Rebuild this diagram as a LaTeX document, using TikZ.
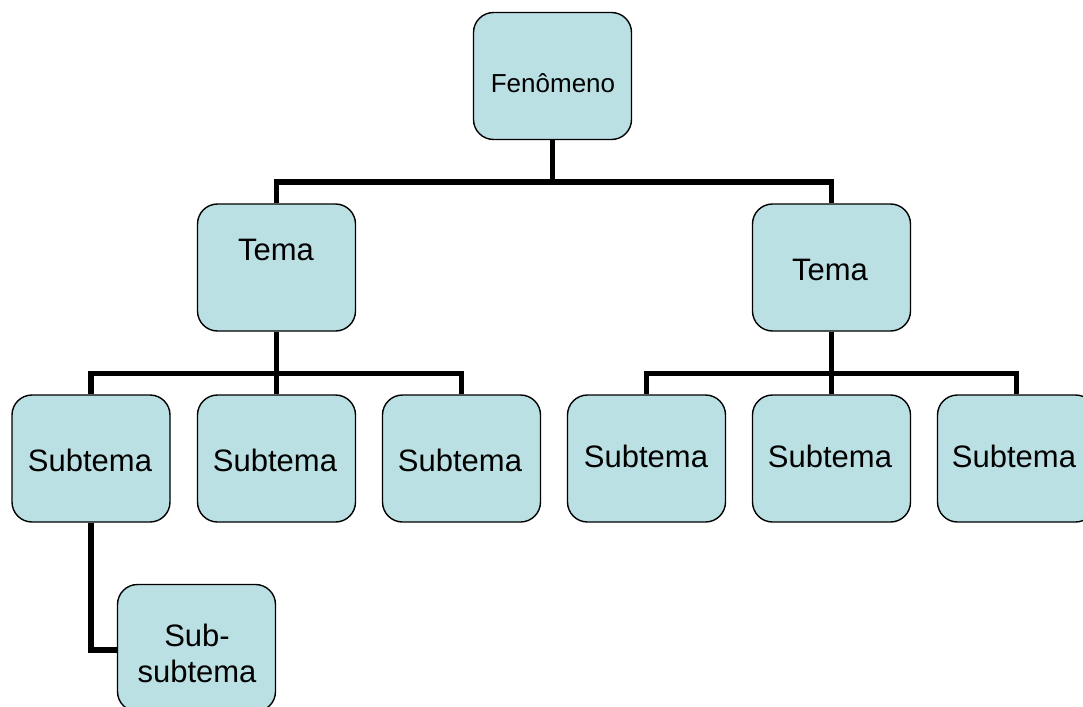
\documentclass[tikz,border=0pt]{standalone}
\usepackage{fontspec}
\setmainfont{Liberation Sans}
\usetikzlibrary{backgrounds}
\definecolor{boxfill}{RGB}{187,224,227}
\begin{document}
\begin{tikzpicture}[x=1pt,y=-1pt,
  box/.style={draw=black, line width=1.4pt, fill=boxfill, rounded corners=20pt,
    minimum width=158pt, minimum height=127pt, inner sep=0pt},
  lbl/.style={anchor=base, inner sep=0pt, align=center, font=\fontsize{31}{36}\selectfont},
  small/.style={anchor=base, inner sep=0pt, font=\fontsize{26}{30}\selectfont},
  conn/.style={draw=black, line width=5.5pt}]
\useasboundingbox (0,0) rectangle (1083,706);
% boxes
\node[box] (F) at (552.5,76) {};
\node[box] (T1) at (276.5,267.5) {};
\node[box] (T2) at (831.5,267.5) {};
\node[box] (S1) at (91,458.5) {};
\node[box] (S2) at (276.5,458.5) {};
\node[box] (S3) at (461.5,458.5) {};
\node[box] (S4) at (646.5,458.5) {};
\node[box] (S5) at (831.5,458.5) {};
\node[box] (S6) at (1016.5,458.5) {};
\node[box] (SS) at (196.5,648) {};
% connectors
\begin{scope}[on background layer]
\coordinate (j0) at ([yshift=-42pt]F.south);
\coordinate (j1) at ([yshift=-42pt]T1.south);
\coordinate (j2) at ([yshift=-42pt]T2.south);
\draw[conn] (F.south) -- (j0);
\draw[conn] (T1.north) |- (j0) -| (T2.north);
\draw[conn] (S1.north) |- (j1) -| (S3.north);
\draw[conn] (T1.south) -- (S2.north);
\draw[conn] (S4.north) |- (j2) -| (S6.north);
\draw[conn] (T2.south) -- (S5.north);
\draw[conn] (S1.south) |- ([yshift=-2pt]SS.west);
\end{scope}
% texts
\node[small] (Ft) at (553,93) {Fenômeno};
\node[lbl] (T1t) at (276,260) {Tema};
\node[lbl] (T2t) at (830,280) {Tema};
\node[lbl] (S1t) at (90,471) {Subtema};
\node[lbl] (S2t) at (275,471) {Subtema};
\node[lbl] (S3t) at (460,471) {Subtema};
\node[lbl] (S4t) at (646,467) {Subtema};
\node[lbl] (S5t) at (830,467) {Subtema};
\node[lbl] (S6t) at (1014,467) {Subtema};
\node[lbl] (SSt) at (197,682) {Sub-\\subtema};
\end{tikzpicture}
\end{document}
